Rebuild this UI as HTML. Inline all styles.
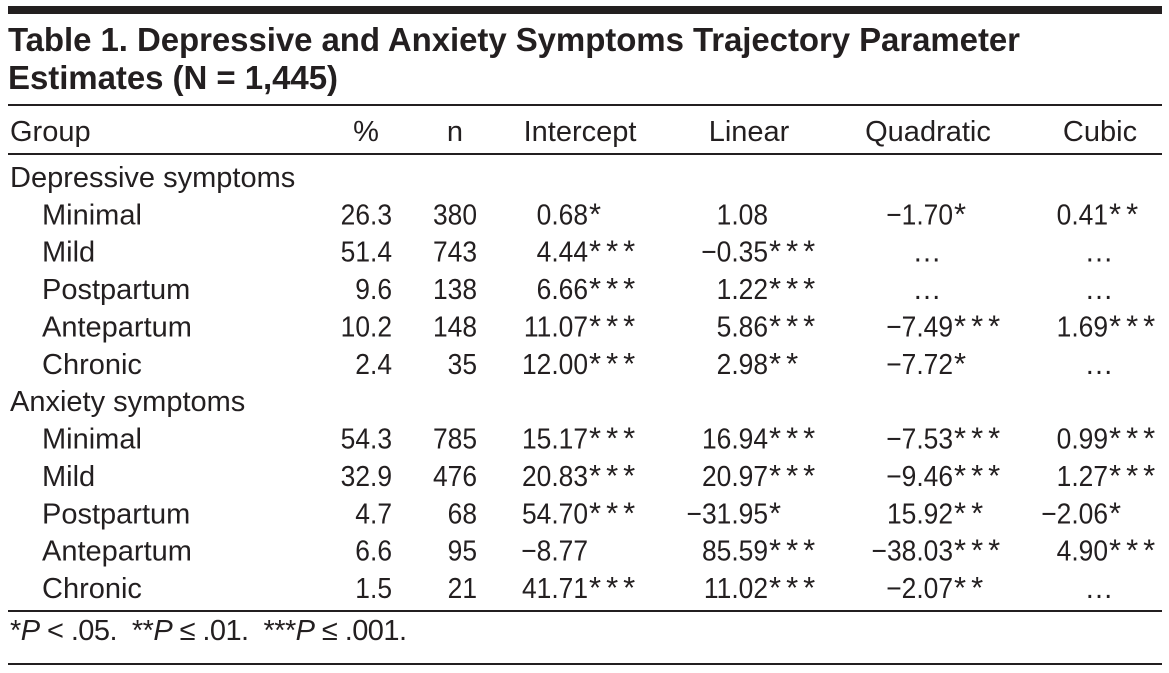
<!DOCTYPE html>
<html><head><meta charset="utf-8">
<style>
html,body{margin:0;padding:0;background:#fff;}
svg{display:block;}
text{font-family:"Liberation Sans",Arial,sans-serif;fill:#231f20;font-size:29px;}
.t{font-weight:bold;font-size:33px;}
.s{font-size:31px;}
</style></head>
<body>
<svg width="1169" height="673" viewBox="0 0 1169 673" xmlns="http://www.w3.org/2000/svg">
<rect x="0" y="0" width="1169" height="673" fill="#fff"/>
<rect x="8" y="6" width="1154" height="8" fill="#231f20"/>
<text class="t" x="8" y="51" textLength="1012" lengthAdjust="spacing">Table 1. Depressive and Anxiety Symptoms Trajectory Parameter</text>
<text class="t" x="8" y="89" textLength="330" lengthAdjust="spacing">Estimates (N = 1,445)</text>
<rect x="8" y="104" width="1154" height="2" fill="#231f20"/>
<text x="10" y="141">Group</text>
<text x="366" y="141" text-anchor="middle">%</text>
<text x="455" y="141" text-anchor="middle">n</text>
<text x="580" y="141" text-anchor="middle">Intercept</text>
<text x="749" y="141" text-anchor="middle">Linear</text>
<text x="928" y="141" text-anchor="middle">Quadratic</text>
<text x="1100" y="141" text-anchor="middle">Cubic</text>
<rect x="8" y="153" width="1154" height="2" fill="#231f20"/>

<text x="10" y="187">Depressive symptoms</text>
<text x="10" y="411.2">Anxiety symptoms</text>

<text x="42" y="224.4">Minimal</text>
<text x="42" y="261.7">Mild</text>
<text x="42" y="299.1">Postpartum</text>
<text x="42" y="336.5">Antepartum</text>
<text x="42" y="373.8">Chronic</text>
<text x="42" y="448.5">Minimal</text>
<text x="42" y="485.9">Mild</text>
<text x="42" y="523.3">Postpartum</text>
<text x="42" y="560.6">Antepartum</text>
<text x="42" y="598">Chronic</text>

<g text-anchor="end">
<text transform="translate(392,224.4) scale(0.91,1)">26.3</text>
<text transform="translate(392,261.7) scale(0.91,1)">51.4</text>
<text transform="translate(392,299.1) scale(0.91,1)">9.6</text>
<text transform="translate(392,336.5) scale(0.91,1)">10.2</text>
<text transform="translate(392,373.8) scale(0.91,1)">2.4</text>
<text transform="translate(392,448.5) scale(0.91,1)">54.3</text>
<text transform="translate(392,485.9) scale(0.91,1)">32.9</text>
<text transform="translate(392,523.3) scale(0.91,1)">4.7</text>
<text transform="translate(392,560.6) scale(0.91,1)">6.6</text>
<text transform="translate(392,598) scale(0.91,1)">1.5</text>

<text transform="translate(477,224.4) scale(0.91,1)">380</text>
<text transform="translate(477,261.7) scale(0.91,1)">743</text>
<text transform="translate(477,299.1) scale(0.91,1)">138</text>
<text transform="translate(477,336.5) scale(0.91,1)">148</text>
<text transform="translate(477,373.8) scale(0.91,1)">35</text>
<text transform="translate(477,448.5) scale(0.91,1)">785</text>
<text transform="translate(477,485.9) scale(0.91,1)">476</text>
<text transform="translate(477,523.3) scale(0.91,1)">68</text>
<text transform="translate(477,560.6) scale(0.91,1)">95</text>
<text transform="translate(477,598) scale(0.91,1)">21</text>

<text transform="translate(588,224.4) scale(0.91,1)">0.68</text>
<text transform="translate(588,261.7) scale(0.91,1)">4.44</text>
<text transform="translate(588,299.1) scale(0.91,1)">6.66</text>
<text transform="translate(588,336.5) scale(0.91,1)">11.07</text>
<text transform="translate(588,373.8) scale(0.91,1)">12.00</text>
<text transform="translate(588,448.5) scale(0.91,1)">15.17</text>
<text transform="translate(588,485.9) scale(0.91,1)">20.83</text>
<text transform="translate(588,523.3) scale(0.91,1)">54.70</text>
<text transform="translate(588,560.6) scale(0.91,1)">−8.77</text>
<text transform="translate(588,598) scale(0.91,1)">41.71</text>

<text transform="translate(768,224.4) scale(0.91,1)">1.08</text>
<text transform="translate(768,261.7) scale(0.91,1)">−0.35</text>
<text transform="translate(768,299.1) scale(0.91,1)">1.22</text>
<text transform="translate(768,336.5) scale(0.91,1)">5.86</text>
<text transform="translate(768,373.8) scale(0.91,1)">2.98</text>
<text transform="translate(768,448.5) scale(0.91,1)">16.94</text>
<text transform="translate(768,485.9) scale(0.91,1)">20.97</text>
<text transform="translate(768,523.3) scale(0.91,1)">−31.95</text>
<text transform="translate(768,560.6) scale(0.91,1)">85.59</text>
<text transform="translate(768,598) scale(0.91,1)">11.02</text>

<text transform="translate(953,224.4) scale(0.91,1)">−1.70</text>
<text transform="translate(953,336.5) scale(0.91,1)">−7.49</text>
<text transform="translate(953,373.8) scale(0.91,1)">−7.72</text>
<text transform="translate(953,448.5) scale(0.91,1)">−7.53</text>
<text transform="translate(953,485.9) scale(0.91,1)">−9.46</text>
<text transform="translate(953,523.3) scale(0.91,1)">15.92</text>
<text transform="translate(953,560.6) scale(0.91,1)">−38.03</text>
<text transform="translate(953,598) scale(0.91,1)">−2.07</text>

<text transform="translate(1108,224.4) scale(0.91,1)">0.41</text>
<text transform="translate(1108,336.5) scale(0.91,1)">1.69</text>
<text transform="translate(1108,448.5) scale(0.91,1)">0.99</text>
<text transform="translate(1108,485.9) scale(0.91,1)">1.27</text>
<text transform="translate(1108,523.3) scale(0.91,1)">−2.06</text>
<text transform="translate(1108,560.6) scale(0.91,1)">4.90</text>
</g>

<g text-anchor="middle">
<text x="927" y="261.7">…</text>
<text x="927" y="299.1">…</text>
<text x="1099" y="261.7">…</text>
<text x="1099" y="299.1">…</text>
<text x="1099" y="373.8">…</text>
<text x="1099" y="598">…</text>
</g>

<g letter-spacing="5" class="s">
<text class="s" x="589" y="224.4">*</text>
<text class="s" x="589" y="261.7">***</text>
<text class="s" x="589" y="299.1">***</text>
<text class="s" x="589" y="336.5">***</text>
<text class="s" x="589" y="373.8">***</text>
<text class="s" x="589" y="448.5">***</text>
<text class="s" x="589" y="485.9">***</text>
<text class="s" x="589" y="523.3">***</text>
<text class="s" x="589" y="598">***</text>

<text class="s" x="769" y="261.7">***</text>
<text class="s" x="769" y="299.1">***</text>
<text class="s" x="769" y="336.5">***</text>
<text class="s" x="769" y="373.8">**</text>
<text class="s" x="769" y="448.5">***</text>
<text class="s" x="769" y="485.9">***</text>
<text class="s" x="769" y="523.3">*</text>
<text class="s" x="769" y="560.6">***</text>
<text class="s" x="769" y="598">***</text>

<text class="s" x="954" y="224.4">*</text>
<text class="s" x="954" y="336.5">***</text>
<text class="s" x="954" y="373.8">*</text>
<text class="s" x="954" y="448.5">***</text>
<text class="s" x="954" y="485.9">***</text>
<text class="s" x="954" y="523.3">**</text>
<text class="s" x="954" y="560.6">***</text>
<text class="s" x="954" y="598">**</text>

<text class="s" x="1109" y="224.4">**</text>
<text class="s" x="1109" y="336.5">***</text>
<text class="s" x="1109" y="448.5">***</text>
<text class="s" x="1109" y="485.9">***</text>
<text class="s" x="1109" y="523.3">*</text>
<text class="s" x="1109" y="560.6">***</text>
</g>

<rect x="8" y="610" width="1154" height="2" fill="#231f20"/>
<text x="10" y="640" textLength="397" lengthAdjust="spacing" style="white-space:pre">*<tspan font-style="italic">P</tspan> &lt; .05.  **<tspan font-style="italic">P</tspan> ≤ .01.  ***<tspan font-style="italic">P</tspan> ≤ .001.</text>
<rect x="8" y="663" width="1154" height="2" fill="#231f20"/>
</svg>
</body></html>
